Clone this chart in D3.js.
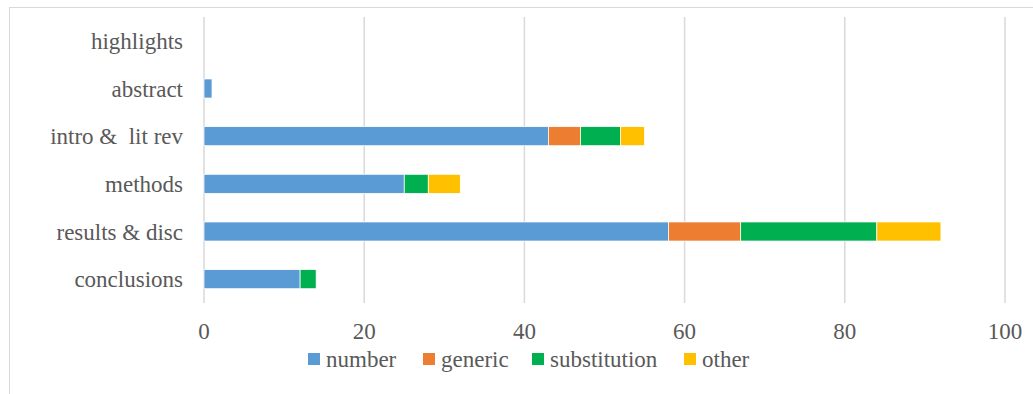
<!DOCTYPE html>
<html>
<head>
<meta charset="utf-8">
<script src="https://cdn.jsdelivr.net/npm/d3@7"></script>
<style>
  html, body { margin: 0; padding: 0; background: #fff; }
  svg { display: block; }
</style>
</head>
<body>
<svg id="chart" width="1033" height="394" style="font-family: 'Liberation Serif'"></svg>
<script>
// Sections of the paper, top to bottom
const sections = ["highlights", "abstract", "intro &  lit rev", "methods", "results & disc", "conclusions"];
// Counts per category for each section
const number       = [0, 1, 43, 25, 58, 12];
const generic      = [0, 0, 4, 0, 9, 0];
const substitution = [0, 0, 5, 3, 17, 2];
const other        = [0, 0, 3, 4, 8, 0];
const seriesNames  = ["number", "generic", "substitution", "other"];
const seriesColors = ["#5b9bd5", "#ed7d31", "#00b050", "#ffc000"];
const xTicks = [0, 20, 40, 60, 80, 100];

const FONT = "Liberation Serif";
const TEXT_COLOR = "#595959";
const svg = d3.select("#chart");
const margin = { left: 204, right: 28, top: 17, bottom: 91 };
const W = 1033, H = 394;

// Chart frame
svg.append("rect")
  .attr("x", 9.5).attr("y", 7.5)
  .attr("width", 1040).attr("height", 400)
  .attr("fill", "none").attr("stroke", "#d9d9d9").attr("stroke-width", 1);

const x = d3.scaleLinear().domain([0, 100]).range([margin.left, W - margin.right]);
const y = d3.scaleBand().domain(sections).range([margin.top, H - margin.bottom]).paddingInner(0.6).paddingOuter(0.3);

// Build stack table
const table = sections.map((s, i) => ({
  section: s,
  number: number[i], generic: generic[i], substitution: substitution[i], other: other[i]
}));
const stacked = d3.stack().keys(seriesNames)(table);

// Vertical gridlines
svg.append("g")
  .selectAll("line")
  .data(xTicks)
  .join("line")
  .attr("x1", d => x(d)).attr("x2", d => x(d))
  .attr("y1", margin.top).attr("y2", H - margin.bottom)
  .attr("stroke", "#d9d9d9").attr("stroke-width", 1.5);

// X tick labels
xTicks.forEach(d => {
  svg.append("text")
    .attr("x", x(d)).attr("y", 339)
    .attr("text-anchor", "middle")
    .style("font-family", FONT)
    .style("font-size", "23px")
    .style("fill", TEXT_COLOR)
    .text(d);
});

// Category labels
sections.forEach(d => {
  svg.append("text")
    .attr("x", 183)
    .attr("y", y(d) + y.bandwidth() / 2 + 8)
    .attr("text-anchor", "end")
    .style("font-family", FONT)
    .style("font-size", "23px")
    .style("fill", TEXT_COLOR)
    .style("white-space", "pre")
    .text(d);
});

// Stacked bars
svg.append("g")
  .selectAll("g")
  .data(stacked)
  .join("g")
  .attr("fill", (d, i) => seriesColors[i])
  .selectAll("rect")
  .data(d => d.filter(p => p[1] - p[0] > 0))
  .join("rect")
  .attr("x", d => x(d[0]))
  .attr("width", d => x(d[1]) - x(d[0]))
  .attr("y", d => y(d.data.section))
  .attr("height", y.bandwidth())
  .attr("stroke", "#fff").attr("stroke-width", 0.75);

// Legend: swatch left edges along the row
const legendX = [308, 423, 532, 684];
seriesNames.forEach((name, i) => {
  svg.append("rect")
    .attr("x", legendX[i]).attr("y", 353)
    .attr("width", 12).attr("height", 12)
    .attr("fill", seriesColors[i]);
  svg.append("text")
    .attr("x", legendX[i] + 18).attr("y", 367)
    .style("font-family", FONT)
    .style("font-size", "23px")
    .style("fill", TEXT_COLOR)
    .text(name);
});
</script>
</body>
</html>
